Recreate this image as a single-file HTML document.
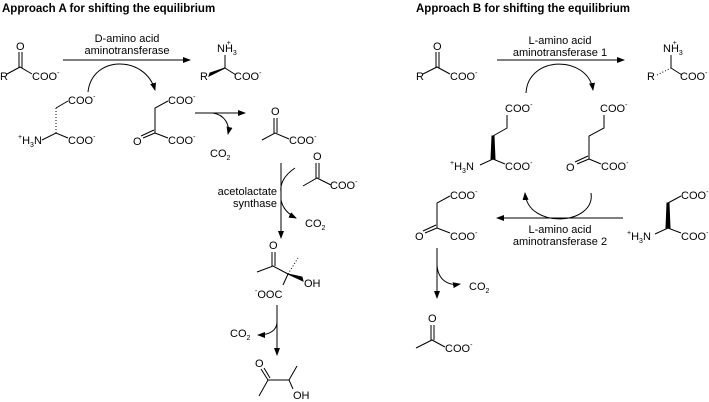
<!DOCTYPE html>
<html><head><meta charset="utf-8"><style>
html,body{margin:0;padding:0;background:#fff;}
svg{display:block}
text{font-family:"Liberation Sans",Arial,sans-serif;font-size:11px;fill:#000}
.t{font-weight:bold;font-size:11.5px}
.s{font-size:7px}
line,path,polyline{stroke:#000;stroke-width:1;fill:none}
</style></head><body>
<svg width="709" height="402" viewBox="0 0 709 402">
<defs><marker id="a" markerWidth="8" markerHeight="6" refX="7" refY="3" orient="auto" markerUnits="userSpaceOnUse"><path d="M0,0 L8,3 L0,6 z" style="fill:#000;stroke:none"/></marker></defs>

<text class="t" x="2" y="12">Approach A for shifting the equilibrium</text>
<text class="t" x="416" y="12">Approach B for shifting the equilibrium</text>

<!-- A: keto acid -->
<text x="16" y="50">O</text>
<line x1="19" y1="52" x2="19" y2="68"/><line x1="22" y1="52" x2="22" y2="68"/>
<polyline points="7,74 20,67 32,74"/>
<text x="0" y="80">R</text><text x="32" y="80">COO<tspan class="s" dy="-5">-</tspan></text>
<!-- arrow -->
<text x="127" y="42" text-anchor="middle">D-amino acid</text>
<text x="127" y="54" text-anchor="middle">aminotransferase</text>
<line x1="63" y1="60" x2="190" y2="60" marker-end="url(#a)"/>
<path d="M88,92 C92,55 145,55 155,90" marker-end="url(#a)"/>
<!-- product -->
<text x="217" y="52">NH<tspan class="s" dy="3">3</tspan><tspan class="s" dx="-10" dy="-10">+</tspan></text>
<line x1="225" y1="55" x2="225" y2="68"/>
<path d="M209,76 L225,68 L210,73 z" style="fill:#000"/>
<line x1="225" y1="68" x2="236" y2="75"/>
<text x="200" y="80">R</text><text x="234" y="80">COO<tspan class="s" dy="-5">-</tspan></text>
<!-- aspartate -->
<text x="68" y="104">COO<tspan class="s" dy="-5">-</tspan></text>
<line x1="68" y1="101" x2="56" y2="108"/>
<line x1="56" y1="108" x2="56" y2="133" stroke-dasharray="1,2"/>
<polyline points="42,140 56,133 68,138"/>
<text x="18" y="144"><tspan class="s" dy="-5">+</tspan><tspan dy="5">H</tspan><tspan class="s" dy="3">3</tspan><tspan dy="-3">N</tspan></text>
<text x="68" y="144">COO<tspan class="s" dy="-5">-</tspan></text>
<!-- oxaloacetate -->
<text x="168" y="104">COO<tspan class="s" dy="-5">-</tspan></text>
<polyline points="168,101 155,108 155,133 168,138"/>
<line x1="155" y1="133" x2="143" y2="138"/><line x1="154" y1="130" x2="141" y2="136"/>
<text x="133" y="145">O</text>
<text x="168" y="144">COO<tspan class="s" dy="-5">-</tspan></text>
<line x1="195" y1="113" x2="245" y2="113" marker-end="url(#a)"/>
<path d="M213,113 C225,115 230,125 228,134" marker-end="url(#a)"/>
<text x="210" y="157">CO<tspan class="s" dy="3">2</tspan></text>
<!-- pyruvate -->
<text x="271" y="115">O</text>
<line x1="274" y1="118" x2="274" y2="133"/><line x1="277" y1="118" x2="277" y2="133"/>
<polyline points="262,140 275,133 289,139"/>
<text x="289" y="144">COO<tspan class="s" dy="-5">-</tspan></text>
<!-- synthase arrow -->
<line x1="281" y1="163" x2="281" y2="238" marker-end="url(#a)"/>
<text x="277" y="195" text-anchor="end">acetolactate</text>
<text x="277" y="207" text-anchor="end">synthase</text>
<path d="M295,168 C283,176 280,185 281,192"/>
<path d="M281,200 C283,210 290,215 296,218" marker-end="url(#a)"/>
<text x="305" y="227">CO<tspan class="s" dy="3">2</tspan></text>
<text x="313" y="160">O</text>
<line x1="316" y1="163" x2="316" y2="178"/><line x1="319" y1="163" x2="319" y2="178"/>
<polyline points="303,186 317,178 331,185"/>
<text x="330" y="189">COO<tspan class="s" dy="-5">-</tspan></text>
<!-- acetolactate -->
<text x="269" y="249">O</text>
<line x1="272" y1="252" x2="272" y2="266"/><line x1="275" y1="252" x2="275" y2="266"/>
<polyline points="257,272 273,266 288,274"/>
<line x1="288" y1="274" x2="298" y2="258" stroke-dasharray="1,2"/>
<path d="M288,274 L303,281 L302,277 z" style="fill:#000"/>
<line x1="288" y1="274" x2="283" y2="285"/>
<text x="304" y="287">OH</text>
<text x="255" y="298"><tspan class="s" dy="-5">-</tspan><tspan dy="5">OOC</tspan></text>
<line x1="277" y1="305" x2="277" y2="355" marker-end="url(#a)"/>
<path d="M277,322 C277,330 270,335 258,335" marker-end="url(#a)"/>
<text x="230" y="337">CO<tspan class="s" dy="3">2</tspan></text>
<!-- acetoin -->
<text x="255" y="367">O</text>
<line x1="261" y1="369" x2="268" y2="380"/><line x1="264" y1="368" x2="270" y2="378"/>
<polyline points="259,396 268,380 289,380 297,366"/>
<line x1="289" y1="380" x2="293" y2="389"/>
<text x="293" y="399">OH</text>

<!-- B: keto acid -->
<text x="433" y="50">O</text>
<line x1="436" y1="52" x2="436" y2="68"/><line x1="439" y1="52" x2="439" y2="68"/>
<polyline points="423,74 437,67 450,74"/>
<text x="416" y="80">R</text><text x="450" y="80">COO<tspan class="s" dy="-5">-</tspan></text>
<text x="560" y="44" text-anchor="middle">L-amino acid</text>
<text x="560" y="56" text-anchor="middle">aminotransferase 1</text>
<line x1="497" y1="60" x2="624" y2="60" marker-end="url(#a)"/>
<path d="M526,93 C528,55 588,55 593,90" marker-end="url(#a)"/>
<text x="663" y="52">NH<tspan class="s" dy="3">3</tspan><tspan class="s" dx="-10" dy="-10">+</tspan></text>
<line x1="671" y1="55" x2="671" y2="68"/>
<line x1="657" y1="75" x2="671" y2="68" stroke-dasharray="1,2"/>
<line x1="671" y1="68" x2="682" y2="75"/>
<text x="647" y="80">R</text><text x="680" y="80">COO<tspan class="s" dy="-5">-</tspan></text>
<!-- glutamate -->
<text x="505" y="112">COO<tspan class="s" dy="-5">-</tspan></text>
<polyline points="507,115 507,128 493,136 493,159"/>
<path d="M492,136 L494,136 L495,159 L491,159 z" style="fill:#000"/>
<polyline points="480,165 493,159 505,164"/>
<text x="450" y="170"><tspan class="s" dy="-5">+</tspan><tspan dy="5">H</tspan><tspan class="s" dy="3">3</tspan><tspan dy="-3">N</tspan></text>
<text x="505" y="170">COO<tspan class="s" dy="-5">-</tspan></text>
<!-- alpha-KG -->
<text x="600" y="112">COO<tspan class="s" dy="-5">-</tspan></text>
<polyline points="604,115 604,128 589,136 589,159 601,164"/>
<line x1="589" y1="159" x2="577" y2="164"/><line x1="588" y1="156" x2="575" y2="162"/>
<text x="566" y="171">O</text>
<text x="601" y="170">COO<tspan class="s" dy="-5">-</tspan></text>
<!-- lower cycle -->
<path d="M591,193 C596,225 528,230 525,193" marker-end="url(#a)"/>
<line x1="623" y1="218" x2="497" y2="218" marker-end="url(#a)"/>
<text x="560" y="233" text-anchor="middle">L-amino acid</text>
<text x="560" y="245" text-anchor="middle">aminotransferase 2</text>
<!-- aspartate right -->
<text x="681" y="199">COO<tspan class="s" dy="-5">-</tspan></text>
<line x1="681" y1="196" x2="668" y2="203"/>
<path d="M667,203 L669,203 L670,228 L666,228 z" style="fill:#000"/>
<polyline points="655,234 668,228 681,233"/>
<text x="627" y="240"><tspan class="s" dy="-5">+</tspan><tspan dy="5">H</tspan><tspan class="s" dy="3">3</tspan><tspan dy="-3">N</tspan></text>
<text x="681" y="240">COO<tspan class="s" dy="-5">-</tspan></text>
<!-- oxaloacetate left -->
<text x="450" y="199">COO<tspan class="s" dy="-5">-</tspan></text>
<polyline points="450,196 437,203 437,228 450,233"/>
<line x1="437" y1="228" x2="425" y2="233"/><line x1="436" y1="225" x2="423" y2="231"/>
<text x="415" y="240">O</text>
<text x="450" y="240">COO<tspan class="s" dy="-5">-</tspan></text>
<line x1="437" y1="248" x2="437" y2="298" marker-end="url(#a)"/>
<path d="M437,265 C438,280 448,286 460,284" marker-end="url(#a)"/>
<text x="469" y="290">CO<tspan class="s" dy="3">2</tspan></text>
<!-- pyruvate B -->
<text x="428" y="322">O</text>
<line x1="431" y1="325" x2="431" y2="340"/><line x1="434" y1="325" x2="434" y2="340"/>
<polyline points="416,348 432,340 445,347"/>
<text x="445" y="352">COO<tspan class="s" dy="-5">-</tspan></text>
</svg>
</body></html>
